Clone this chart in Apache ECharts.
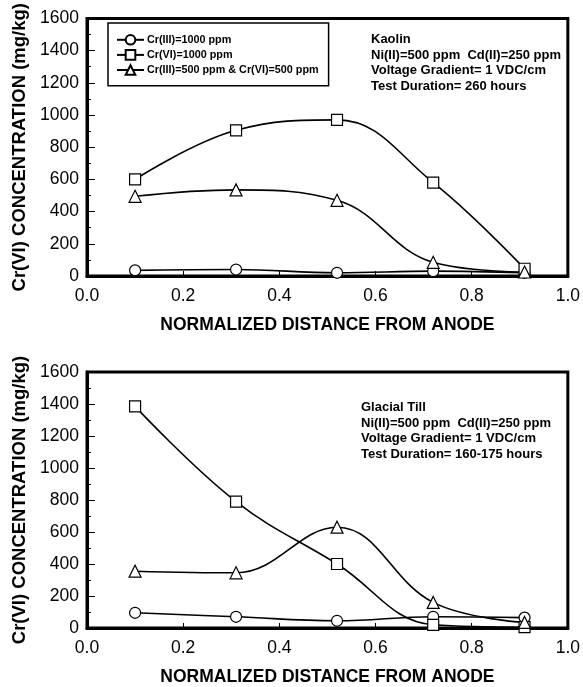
<!DOCTYPE html>
<html><head><meta charset="utf-8">
<script src="https://cdn.jsdelivr.net/npm/echarts@6/dist/echarts.min.js"></script>
<style>html,body{margin:0;padding:0;background:#fff}#c{width:583px;height:687px}</style>
</head><body><div id="c"></div>
<script>
const xPos = [0.1, 0.31, 0.52, 0.72, 0.91];
const seriesNames = ['Cr(III)=1000 ppm', 'Cr(VI)=1000 ppm', 'Cr(III)=500 ppm & Cr(VI)=500 ppm'];
// Kaolin (top)
const kaolinCr3 = [35, 40, 20, 30, 20];
const kaolinCr6 = [600, 905, 970, 580, 45];
const kaolinMix = [495, 535, 470, 85, 25];
// Glacial Till (bottom)
const tillCr3 = [95, 70, 45, 70, 65];
const tillCr6 = [1385, 790, 400, 20, 5];
const tillMix = [355, 345, 630, 160, 35];
const yTicks = [0, 200, 400, 600, 800, 1000, 1200, 1400, 1600];
const xTicks = [0.0, 0.2, 0.4, 0.6, 0.8, 1.0];
const kaolinNote = ['Kaolin', 'Ni(II)=500 ppm  Cd(II)=250 ppm', 'Voltage Gradient= 1 VDC/cm', 'Test Duration= 260 hours'];
const tillNote = ['Glacial Till', 'Ni(II)=500 ppm  Cd(II)=250 ppm', 'Voltage Gradient= 1 VDC/cm', 'Test Duration= 160-175 hours'];
const yTitle = 'Cr(VI) CONCENTRATION (mg/kg)';
const xTitle = 'NORMALIZED DISTANCE FROM ANODE';

const FONT = '"Liberation Sans", Arial, sans-serif';
const symbols = ['circle', 'rect', 'triangle'];
const symSizes = [11, 11, 12];

function pairs(vals){ return xPos.map((x,i)=>[x, vals[i]]); }

function makeX(gi){
  return {
    gridIndex: gi, type: 'value', min: 0, max: 1, interval: 0.2,
    name: xTitle, nameLocation: 'middle', nameGap: 40,
    nameTextStyle: {fontFamily: FONT, fontSize: 17.5, fontWeight: 'bold', color: '#000'},
    axisLine: {show: true, lineStyle: {color: '#000', width: 3}},
    axisTick: {show: true, inside: true, length: 5, lineStyle: {color: '#000', width: 1}},
    axisLabel: {fontFamily: FONT, fontSize: 17.5, color: '#000', margin: 11,
      formatter: v => xTicks.reduce((b, t) => Math.abs(t - v) < Math.abs(b - v) ? t : b).toFixed(1)},
    splitLine: {show: false}
  };
}
function makeY(gi){
  return {
    gridIndex: gi, type: 'value', min: 0, max: 1600, interval: 200,
    name: yTitle, nameLocation: 'middle', nameGap: 58, nameRotate: 90,
    nameTextStyle: {fontFamily: FONT, fontSize: 18.5, fontWeight: 'bold', color: '#000'},
    axisLine: {show: true, lineStyle: {color: '#000', width: 3}},
    axisTick: {show: true, inside: true, length: 8, lineStyle: {color: '#000', width: 1}},
    minorTick: {show: true, splitNumber: 2, length: 4, lineStyle: {color: '#000', width: 1}},
    axisLabel: {fontFamily: FONT, fontSize: 17.5, color: '#000', margin: 8,
      formatter: v => String(yTicks.reduce((b, t) => Math.abs(t - v) < Math.abs(b - v) ? t : b))},
    splitLine: {show: false}
  };
}
function makeSeries(gi, arrs){
  return arrs.map((vals, k) => ({
    name: seriesNames[k], type: 'line', xAxisIndex: gi, yAxisIndex: gi,
    data: pairs(vals), smooth: 0.4,
    symbol: symbols[k], symbolSize: symSizes[k], showAllSymbol: true,
    lineStyle: {color: '#000', width: 1.6},
    itemStyle: {color: '#fff', borderColor: '#000', borderWidth: 1.2},
    z: 3, animation: false
  }));
}
function note(lines, left, top){
  return {
    type: 'text', left: left, top: top, z: 10,
    style: {text: lines.join('\n'), font: 'bold 13px ' + FONT, fill: '#000', lineHeight: 15.5}
  };
}

const chart = echarts.init(document.getElementById('c'), null, {renderer: 'canvas'});
chart.setOption({
  animation: false,
  backgroundColor: '#fff',
  grid: [
    {left: 87, top: 17, width: 481, height: 259, show: true, borderColor: '#000', borderWidth: 3, backgroundColor: 'transparent'},
    {left: 87, top: 372, width: 481, height: 259, show: true, borderColor: '#000', borderWidth: 3, backgroundColor: 'transparent'}
  ],
  xAxis: [makeX(0), makeX(1)],
  yAxis: [makeY(0), makeY(1)],
  legend: {
    show: true, orient: 'vertical', left: 108, top: 23,
    itemWidth: 27, itemHeight: 12, itemGap: 3.5,
    padding: [11, 10, 10, 8],
    borderColor: '#000', borderWidth: 1.5, backgroundColor: '#fff',
    textStyle: {fontFamily: FONT, fontSize: 10.8, fontWeight: 'bold', color: '#000', padding: [0,0,0,-2]},
    data: seriesNames.map(n => ({name: n})),
    selectedMode: false
  },
  graphic: [note(kaolinNote, 371, 32), note(tillNote, 361, 400)],
  series: makeSeries(0, [kaolinCr3, kaolinCr6, kaolinMix]).concat(makeSeries(1, [tillCr3, tillCr6, tillMix]))
});
</script></body></html>
